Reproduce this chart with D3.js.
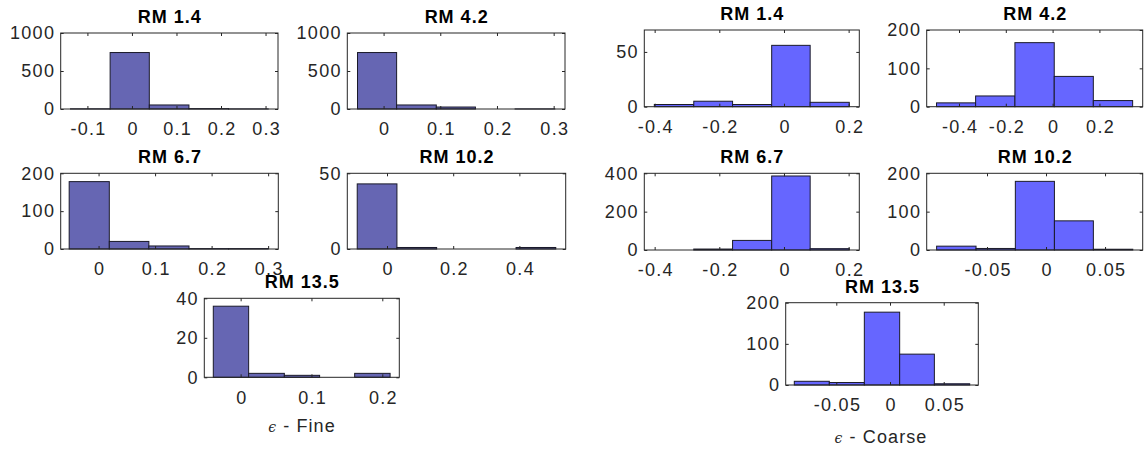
<!DOCTYPE html>
<html>
<head>
<meta charset="utf-8">
<script src="https://cdn.jsdelivr.net/npm/d3@7"></script>
<style>
  body { margin: 0; background: #fff; }
  text { font-family: "Liberation Sans", Arial, sans-serif; }
</style>
</head>
<body>
<script>
// histogram data (bin edges + counts per panel)
var titles = ["RM 1.4", "RM 4.2", "RM 6.7", "RM 10.2", "RM 13.5"];

var fineEdges = [
  [-0.138, -0.049, 0.039, 0.128, 0.217, 0.306],
  [-0.046, 0.023, 0.093, 0.162, 0.232, 0.302],
  [-0.052, 0.019, 0.089, 0.160, 0.230, 0.300],
  [-0.09, 0.03, 0.15, 0.27, 0.39, 0.51],
  [-0.0386, 0.0113, 0.0617, 0.1115, 0.161, 0.211]
];
var fineCounts = [
  [2, 743, 53, 5, 1],
  [743, 53, 26, 0, 1],
  [178, 20, 8, 1, 1],
  [43, 1, 0, 0, 1],
  [36, 2, 1, 0, 2]
];
var fineXLim = [[-0.160, 0.328], [-0.064, 0.320], [-0.067, 0.318], [-0.12, 0.54], [-0.0513, 0.224]];
var fineXTicks = [[-0.1, 0, 0.1, 0.2, 0.3], [0, 0.1, 0.2, 0.3], [0, 0.1, 0.2, 0.3], [0, 0.2, 0.4], [0, 0.1, 0.2]];
var fineYMax = [1000, 1000, 200, 50, 40];
var fineYTicks = [[0, 500, 1000], [0, 500, 1000], [0, 100, 200], [0, 50], [0, 20, 40]];

var coarseEdges = [
  [-0.401, -0.279, -0.159, -0.038, 0.081, 0.202],
  [-0.496, -0.329, -0.161, 0.007, 0.174, 0.342],
  [-0.401, -0.279, -0.159, -0.038, 0.081, 0.202],
  [-0.0927, -0.0593, -0.026, 0.0071, 0.0401, 0.0735],
  [-0.0891, -0.0565, -0.0239, 0.009, 0.0413, 0.0742]
];
var coarseCounts = [
  [2, 5, 2, 56, 4],
  [10, 28, 167, 79, 16],
  [0, 5, 50, 386, 7],
  [10, 4, 179, 76, 2],
  [9, 6, 177, 75, 3]
];
var coarseXLim = [[-0.432, 0.233], [-0.538, 0.385], [-0.432, 0.233], [-0.1011, 0.0819], [-0.0971, 0.0822]];
var coarseXTicks = [[-0.4, -0.2, 0, 0.2], [-0.4, -0.2, 0, 0.2], [-0.4, -0.2, 0, 0.2], [-0.05, 0, 0.05], [-0.05, 0, 0.05]];
var coarseYMax = [70, 200, 400, 200, 200];
var coarseYTicks = [[0, 50], [0, 100, 200], [0, 200, 400], [0, 100, 200], [0, 100, 200]];

// axes boxes [left, top, right, bottom]
var fineBoxes = [
  [60.7, 33, 278, 109], [347.3, 33, 565, 109],
  [60.7, 173.3, 278.3, 249], [347.3, 173.3, 565.7, 249],
  [204.3, 298.3, 399.3, 377.3]
];
var coarseBoxes = [
  [644.3, 30, 859.3, 106.7], [926.7, 30, 1142.7, 106.7],
  [644.3, 173.3, 859.3, 250], [926.7, 173.3, 1142.7, 250],
  [785.7, 302.7, 978.3, 385]
];

var svg = d3.select("body").append("svg")
    .attr("width", 1146)
    .attr("height", 450);

var axisCol = "#262626";

function styleAxis(g) {
  g.selectAll("path").remove();
  g.selectAll("line").attr("stroke", axisCol);
  g.selectAll("text")
    .attr("fill", axisCol)
    .attr("font-size", 18)
    .attr("font-family", "Liberation Sans, Arial, sans-serif")
    .style("letter-spacing", "1.3px");
}

let panel = (b, title, lim, xt, ymax, yt, edges, counts, fill) => {
  var x = d3.scaleLinear().domain(lim).range([b[0], b[2]]);
  var y = d3.scaleLinear().domain([0, ymax]).range([b[3], b[1]]);
  var g = svg.append("g");

  var bins = counts.map(function(c, i) { return {x0: edges[i], x1: edges[i + 1], n: c}; });
  g.selectAll("rect.bar").data(bins).enter().append("rect")
    .attr("class", "bar")
    .attr("x", function(d) { return x(d.x0); })
    .attr("width", function(d) { return x(d.x1) - x(d.x0); })
    .attr("y", function(d) { return y(d.n); })
    .attr("height", function(d) { return y(0) - y(d.n); })
    .attr("fill", fill)
    .attr("stroke", "#1a1a2a")
    .attr("stroke-width", 1);

  var fmt = function(d) { return String(d); };
  g.append("g").attr("transform", "translate(0," + b[3] + ")")
    .call(d3.axisBottom(x).tickValues(xt).tickSizeInner(-3).tickSizeOuter(0).tickPadding(13.5).tickFormat(fmt))
    .call(styleAxis)
    .selectAll("text").attr("dx", "0.65px");
  g.append("g").attr("transform", "translate(0," + b[1] + ")")
    .call(d3.axisTop(x).tickValues(xt).tickSizeInner(-3).tickSizeOuter(0).tickFormat(""))
    .call(styleAxis);
  g.append("g").attr("transform", "translate(" + b[0] + ",0)")
    .call(d3.axisLeft(y).tickValues(yt).tickSizeInner(-3).tickSizeOuter(0).tickPadding(5.5).tickFormat(fmt))
    .call(styleAxis);
  g.append("g").attr("transform", "translate(" + b[2] + ",0)")
    .call(d3.axisRight(y).tickValues(yt).tickSizeInner(-3).tickSizeOuter(0).tickFormat(""))
    .call(styleAxis);

  g.append("rect")
    .attr("x", b[0]).attr("y", b[1])
    .attr("width", b[2] - b[0]).attr("height", b[3] - b[1])
    .attr("fill", "none")
    .attr("stroke", axisCol)
    .attr("stroke-width", 1);

  g.append("text")
    .attr("x", (b[0] + b[2]) / 2 + 0.5)
    .attr("y", b[1] - 10)
    .attr("text-anchor", "middle")
    .attr("font-size", 18)
    .attr("font-weight", "bold")
    .style("letter-spacing", "1px")
    .attr("fill", "#000")
    .text(title);
};

titles.forEach(function(t, i) {
  panel(fineBoxes[i], t, fineXLim[i], fineXTicks[i], fineYMax[i], fineYTicks[i], fineEdges[i], fineCounts[i], "#6666b3");
  panel(coarseBoxes[i], t, coarseXLim[i], coarseXTicks[i], coarseYMax[i], coarseYTicks[i], coarseEdges[i], coarseCounts[i], "#6666ff");
});

let xlabel = (cx, by, word) => {
  var t = svg.append("text")
    .attr("x", cx).attr("y", by)
    .attr("text-anchor", "middle")
    .attr("font-size", 18)
    .style("letter-spacing", "1.1px")
    .attr("fill", axisCol);
  t.append("tspan").attr("font-family", "DejaVu Serif, serif").attr("font-style", "italic").attr("font-size", 14).text("\u03F5");
  t.append("tspan").text(" - " + word);
};
xlabel(302, 431.5, "Fine");
xlabel(881, 443.3, "Coarse");
</script>
</body>
</html>
